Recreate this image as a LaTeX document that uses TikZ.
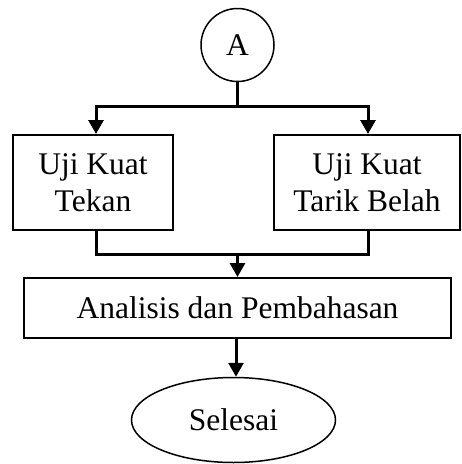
\documentclass[tikz,border=0pt]{standalone}
\usepackage{fontspec}
\setmainfont{Liberation Serif}
\usetikzlibrary{arrows.meta,shapes.geometric}
\begin{document}
\begin{tikzpicture}[x=1pt,y=-1pt,
  txt/.style={font=\fontsize{31.5}{37}\selectfont, align=center, inner sep=0pt},
  procbox/.style={txt, draw, line width=2pt, rectangle},
  conn/.style={line width=3pt},
  arr/.style={line width=3pt, -{Triangle[length=14pt,width=15pt]}}]
\useasboundingbox (0,0) rectangle (462,464);
\node[txt, draw, circle, line width=1.5pt, minimum size=73pt] (A) at (237.5,45) {A};
\node[procbox, minimum width=160pt, minimum height=95pt] (L) at (93,182.5) {Uji Kuat\\Tekan};
\node[procbox, minimum width=186pt, minimum height=95pt] (R) at (367,182.5) {Uji Kuat\\Tarik Belah};
\node[procbox, minimum width=427pt, minimum height=60pt] (P) at (237.5,308) {Analisis dan Pembahasan};
\node[txt, draw, ellipse, line width=1.5pt, minimum width=204pt, minimum height=85pt] (S) at (233.5,420) {Selesai};
\coordinate (j) at (237.5,106);
\coordinate (jl) at (96,106);
\coordinate (jr) at (368,106);
\coordinate (bl) at (96,254);
\coordinate (br) at (368,254);
\coordinate (bm) at (237.5,254);
\coordinate (pm) at (236,338);
\draw[conn] (A.south) -- (j);
\draw[conn,line cap=rect] (jl) -- (jr);
\draw[arr] (jl) -- (jl |- L.north);
\draw[arr] (jr) -- (jr |- R.north);
\draw[conn] (bl |- L.south) -- (bl);
\draw[conn] (br |- R.south) -- (br);
\draw[conn,line cap=rect] (bl) -- (br);
\draw[arr] (bm) -- (bm |- P.north);
\draw[arr] (pm |- P.south) -- (pm |- S.north);
\end{tikzpicture}
\end{document}
